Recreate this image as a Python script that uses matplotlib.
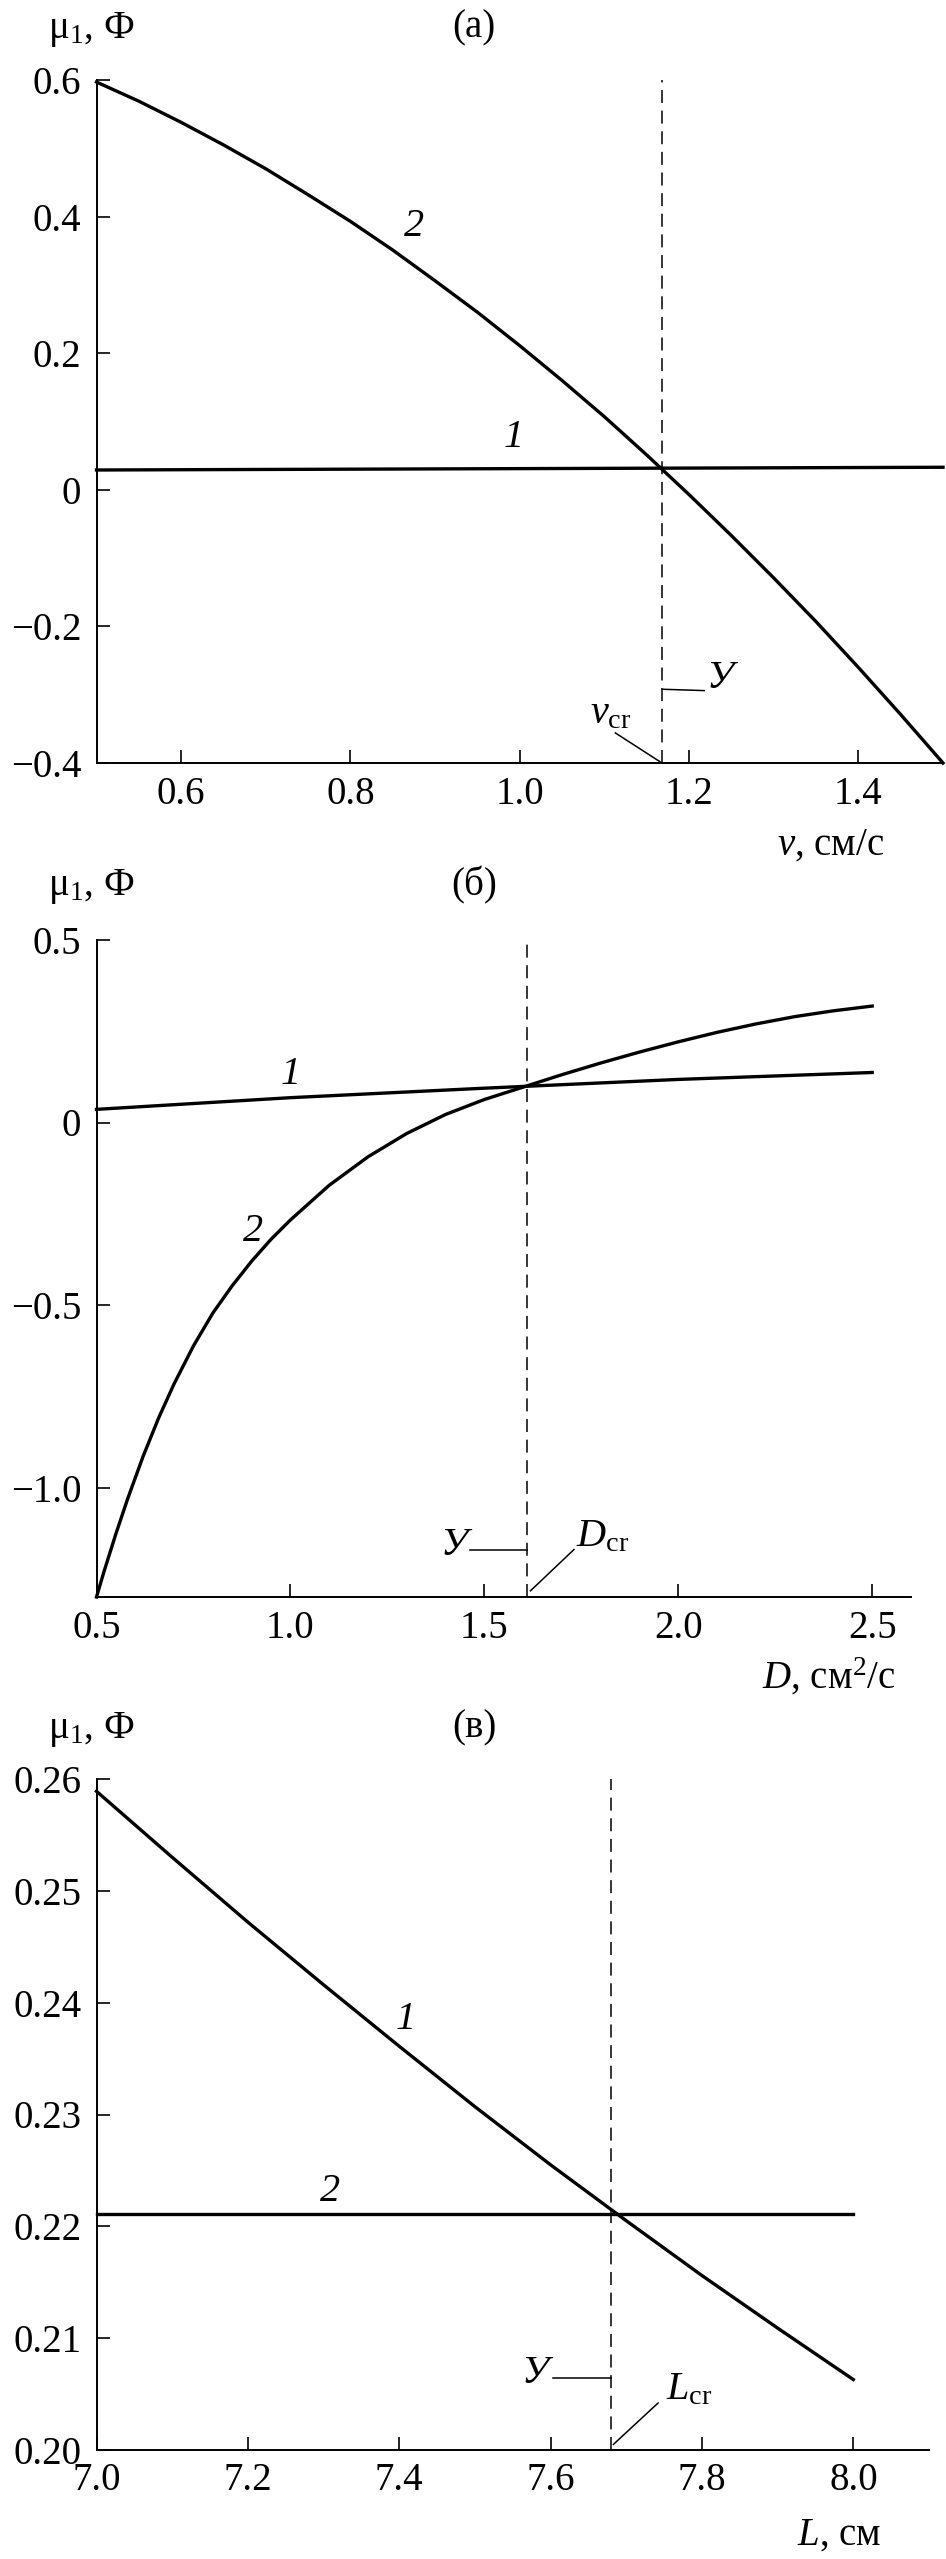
import matplotlib
matplotlib.use("Agg")
import matplotlib.pyplot as plt

plt.rcParams["font.family"] = ["Liberation Serif", "DejaVu Serif"]
plt.rcParams["mathtext.fontset"] = "custom"
plt.rcParams["mathtext.rm"] = "Liberation Serif"
plt.rcParams["mathtext.it"] = "Liberation Serif:italic"
plt.rcParams["mathtext.bf"] = "Liberation Serif:bold"

W, H = 946, 2559
FS = 28
LW = 2.4

# ---- panel (a): v, cm/s ----
v_1 = [0.5, 1.0, 1.5]
mu_a1 = [0.029, 0.031, 0.033]
v_2 = [0.5, 0.55, 0.6, 0.65, 0.7, 0.75, 0.8, 0.85, 0.9, 0.95, 1.0,
       1.05, 1.1, 1.15, 1.2, 1.25, 1.3, 1.35, 1.4, 1.45, 1.5]
mu_a2 = [0.597, 0.569, 0.538, 0.505, 0.470, 0.432, 0.393, 0.351, 0.306, 0.260, 0.211,
         0.160, 0.107, 0.051, -0.007, -0.067, -0.129, -0.193, -0.260, -0.329, -0.400]
v_cr = 1.168

# ---- panel (б): D, cm^2/s ----
D_1 = [0.5, 1.0, 1.5, 2.0, 2.5]
mu_b1 = [0.036, 0.068, 0.094, 0.118, 0.137]
D_2 = [0.5, 0.52, 0.55, 0.58, 0.62, 0.66, 0.7, 0.75, 0.8, 0.85, 0.9, 0.95, 1.0,
       1.1, 1.2, 1.3, 1.4, 1.5, 1.6, 1.7, 1.8, 1.9, 2.0, 2.1, 2.2, 2.3, 2.4, 2.5]
mu_b2 = [-1.300, -1.228, -1.127, -1.032, -0.915, -0.810, -0.716, -0.612, -0.522, -0.447,
         -0.380, -0.320, -0.267, -0.172, -0.094, -0.030, 0.022, 0.063, 0.097, 0.131,
         0.163, 0.193, 0.221, 0.247, 0.270, 0.290, 0.306, 0.319]
D_cr = 1.61

# ---- panel (в): L, cm ----
L_1 = [7.0, 7.1, 7.2, 7.3, 7.4, 7.5, 7.6, 7.7, 7.8, 7.9, 8.0]
mu_c1 = [0.2589, 0.2530, 0.2472, 0.2416, 0.2361, 0.2307, 0.2255, 0.2205, 0.2156, 0.2109, 0.2063]
L_2 = [7.0, 8.0]
mu_c2 = [0.2211, 0.2211]
L_cr = 7.68

fig = plt.figure(figsize=(W / 100, H / 100), dpi=100)


def add_axes(left, top, right, bottom):
    return fig.add_axes([left / W, 1 - bottom / H, (right - left) / W, (bottom - top) / H])


def style(ax, xlim, ylim, xticks, xlabels, yticks, ylabels):
    ax.set_xlim(*xlim)
    ax.set_ylim(*ylim)
    ax.spines[["top", "right"]].set_visible(False)
    for s in ("left", "bottom"):
        ax.spines[s].set_linewidth(1.4)
    ax.set_xticks(xticks, xlabels)
    ax.set_yticks(yticks, ylabels)
    ax.tick_params(direction="in", length=9.5, width=1.2, labelsize=FS)
    ax.tick_params(axis="x", pad=9)
    ax.tick_params(axis="y", pad=11)


def ftext(px, py, s, **kw):
    fig.text(px / W, 1 - py / H, s, **kw)


def marker_lines(ax, y_xy, y_line, cr_xy, cr_label, cr_line):
    ax.text(*y_xy, "У", fontsize=29, style="italic", ha="center", va="center")
    ax.plot(*y_line, color="black", lw=1.1, clip_on=False)
    ax.text(*cr_xy, cr_label, fontsize=29, ha="center", va="center")
    ax.plot(*cr_line, color="black", lw=1.1, clip_on=False)


# (a)
ax = add_axes(96.5, 80, 943, 763)
style(ax, (0.5, 1.5), (-0.4, 0.6),
      [0.6, 0.8, 1.0, 1.2, 1.4], ["0.6", "0.8", "1.0", "1.2", "1.4"],
      [-0.4, -0.2, 0, 0.2, 0.4, 0.6], ["\u22120.4", "\u22120.2", "0", "0.2", "0.4", "0.6"])
ax.plot(v_1, mu_a1, color="black", lw=LW, clip_on=False)
ax.plot(v_2, mu_a2, color="black", lw=LW, clip_on=False)
ax.axvline(v_cr, color="black", lw=1.1, dashes=(8.5, 5))
ax.text(0.875, 0.385, "2", fontsize=29, style="italic", ha="center", va="center")
ax.text(0.993, 0.077, "1", fontsize=29, style="italic", ha="center", va="center")
marker_lines(ax, (1.236, -0.277), ([v_cr, 1.218], [-0.292, -0.294]),
             (1.107, -0.328), r"$v_{\mathrm{cr}}$", ([1.113, v_cr], [-0.356, -0.4]))
ftext(48, 38, "$\\mathrm{μ}_1$, Ф", fontsize=FS, ha="left", va="baseline")
ftext(474, 28, "(a)", fontsize=FS, ha="center", va="center")
ftext(884, 855, "$v$, см/с", fontsize=FS, ha="right", va="baseline")

# (б)
ax = add_axes(96.5, 940, 911, 1597)
style(ax, (0.5, 2.6), (-1.3, 0.5),
      [0.5, 1.0, 1.5, 2.0, 2.5], ["0.5", "1.0", "1.5", "2.0", "2.5"],
      [-1.0, -0.5, 0, 0.5], ["\u22121.0", "\u22120.5", "0", "0.5"])
ax.plot(D_1, mu_b1, color="black", lw=LW, clip_on=False)
ax.plot(D_2, mu_b2, color="black", lw=LW, clip_on=False)
ax.axvline(D_cr, color="black", lw=1.1, dashes=(8.5, 5))
ax.text(1.0, 0.132, "1", fontsize=29, style="italic", ha="center", va="center")
ax.text(0.904, -0.299, "2", fontsize=29, style="italic", ha="center", va="center")
marker_lines(ax, (1.423, -1.160), ([1.462, D_cr], [-1.170, -1.170]),
             (1.805, -1.136), r"$D_{\mathrm{cr}}$", ([1.731, 1.619], [-1.170, -1.283]))
ftext(48, 895, "$\\mathrm{μ}_1$, Ф", fontsize=FS, ha="left", va="baseline")
ftext(474, 885, "(б)", fontsize=FS, ha="center", va="center")
ftext(896, 1689, "$D$, см$^{2}$/с", fontsize=FS, ha="right", va="baseline")

# (в)
ax = add_axes(96.5, 1779, 929, 2450)
style(ax, (7.0, 8.1), (0.20, 0.26),
      [7.0, 7.2, 7.4, 7.6, 7.8, 8.0], ["7.0", "7.2", "7.4", "7.6", "7.8", "8.0"],
      [0.20, 0.21, 0.22, 0.23, 0.24, 0.25, 0.26],
      ["0.20", "0.21", "0.22", "0.23", "0.24", "0.25", "0.26"])
ax.plot(L_1, mu_c1, color="black", lw=LW, clip_on=False)
ax.plot(L_2, mu_c2, color="black", lw=LW, clip_on=False)
ax.axvline(L_cr, color="black", lw=1.1, dashes=(8.5, 5))
ax.text(7.409, 0.2385, "1", fontsize=29, style="italic", ha="center", va="center")
ax.text(7.309, 0.2231, "2", fontsize=29, style="italic", ha="center", va="center")
marker_lines(ax, (7.579, 0.2068), ([7.603, L_cr], [0.2064, 0.2064]),
             (7.783, 0.2054), r"$L_{\mathrm{cr}}$", ([7.742, 7.683], [0.2042, 0.2005]))
ftext(48, 1738, "$\\mathrm{μ}_1$, Ф", fontsize=FS, ha="left", va="baseline")
ftext(474, 1728, "(в)", fontsize=FS, ha="center", va="center")
ftext(881, 2545, "$L$, см", fontsize=FS, ha="right", va="baseline")

fig.savefig("out.png", dpi=100)
